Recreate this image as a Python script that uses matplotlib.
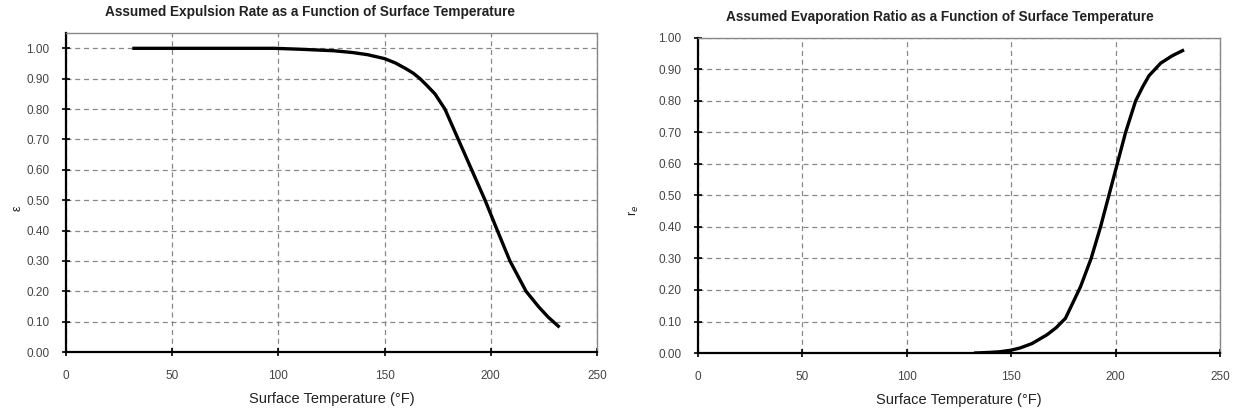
import matplotlib
matplotlib.use("Agg")
import matplotlib.pyplot as plt

plt.rcParams['font.family'] = ['Liberation Sans', 'DejaVu Sans']

# expulsion rate (left chart)
temp_exp = [32, 60, 98, 110, 126, 135, 142, 150, 155, 160, 163.5, 166.7, 170, 173.7,
            178.4, 184.7, 191.0, 197.3, 203.1, 209.0, 216.6, 222.4, 227, 231.8]
expulsion = [1.0, 1.0, 1.0, 0.997, 0.992, 0.986, 0.979, 0.966, 0.952, 0.933, 0.918,
             0.90, 0.877, 0.85, 0.80, 0.70, 0.60, 0.50, 0.40, 0.30, 0.20, 0.15,
             0.115, 0.085]

# evaporation ratio (right chart)
temp_evap = [133, 140, 144.7, 150, 154.3, 160, 167.2, 171.5, 176.0, 183.2, 188.3, 192.8,
             196.8, 200.8, 204.8, 209.6, 213, 216.0, 221.6, 227, 232.1]
evaporation = [0.0, 0.002, 0.004, 0.009, 0.016, 0.03, 0.058, 0.08, 0.11, 0.21, 0.30,
               0.40, 0.50, 0.60, 0.70, 0.80, 0.845, 0.88, 0.92, 0.943, 0.96]

xticks = [0, 50, 100, 150, 200, 250]
yticks = [i / 10 for i in range(11)]

fig = plt.figure(figsize=(12.36, 4.12), dpi=100)
ax1 = fig.add_axes([0.0534, 0.1456, 0.4296, 0.774])
ax2 = fig.add_axes([0.5647, 0.1432, 0.4223, 0.7646])


def style(ax, ytop, title, title_x, ylabel, ylab_x, ylab_y):
    ax.set_xlim(0, 250)
    ax.set_ylim(0, ytop)
    ax.set_xticks(xticks)
    ax.set_yticks(yticks)
    ax.set_yticklabels([f"{v:.2f}" for v in yticks])
    ax.grid(True, color='#888888', linestyle=(0, (4, 3)), linewidth=0.9)
    ax.tick_params(direction='inout', length=6, width=1.2, labelsize=8.5,
                   labelcolor='#444444')
    ax.tick_params(axis='x', pad=10)
    ax.tick_params(axis='y', pad=9)
    for side in ['top', 'right']:
        ax.spines[side].set_color('#888888')
        ax.spines[side].set_linewidth(1.0)
    for side in ['left', 'bottom']:
        ax.spines[side].set_color('black')
        ax.spines[side].set_linewidth(1.6)
    ax.set_xlabel("Surface Temperature (°F)", fontsize=10.5, color='#222222', labelpad=7)
    ax.set_ylabel(ylabel, fontsize=9, color='#222222')
    ax.yaxis.set_label_coords(ylab_x, ylab_y)
    ax.set_title(title, fontsize=9.8, fontweight='bold', color='#222222', pad=12, x=title_x)


ax1.plot(temp_exp, expulsion, color='black', linewidth=2.4, zorder=3)
style(ax1, 1.05, "Assumed Expulsion Rate as a Function of Surface Temperature", 0.46,
      "ε", -0.079, 0.45)

ax2.plot(temp_evap, evaporation, color='black', linewidth=2.4, zorder=3)
style(ax2, 1.0, "Assumed Evaporation Ratio as a Function of Surface Temperature", 0.464,
      r"r$_e$", -0.110, 0.454)

fig.savefig("out.png", dpi=100)
